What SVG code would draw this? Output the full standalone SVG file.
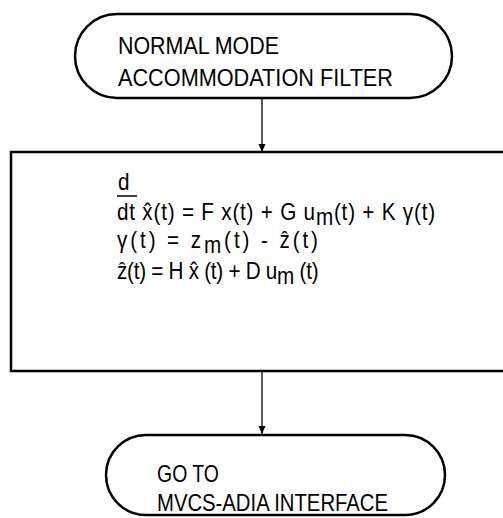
<svg xmlns="http://www.w3.org/2000/svg" width="503" height="518" viewBox="0 0 503 518">
<defs>
<marker id="ah" markerWidth="8" markerHeight="12" refX="8" refY="3.5" orient="auto" markerUnits="userSpaceOnUse">
<path d="M0,0 L8,3.5 L0,7 Z" fill="#000"/>
</marker>
<style>
.shape{fill:#fff;stroke:#000;stroke-width:2.5}
.lbl{font-family:"Liberation Sans","DejaVu Sans",sans-serif;font-size:24px;fill:#000}
.eq{font-family:"Liberation Sans","DejaVu Sans",sans-serif;font-size:23.5px;fill:#000}
.conn{stroke:#000;stroke-width:1.3;fill:none}
</style>
</defs>
<rect width="503" height="518" fill="#fff"/>
<g id="connectors">
<line class="conn" x1="262" y1="98" x2="262" y2="152" marker-end="url(#ah)"/>
<line class="conn" x1="262" y1="371" x2="262" y2="434" marker-end="url(#ah)"/>
</g>
<g id="start">
<rect class="shape" x="75" y="14" width="377" height="84" rx="42" ry="42"/>
<text class="lbl" x="118" y="54" textLength="161" lengthAdjust="spacingAndGlyphs">NORMAL MODE</text>
<text class="lbl" x="118" y="86" textLength="275" lengthAdjust="spacingAndGlyphs">ACCOMMODATION FILTER</text>
</g>
<g id="filter">
<rect class="shape" x="11" y="152" width="500" height="219"/>
<line x1="117" y1="196" x2="137" y2="196" stroke="#000" stroke-width="1.5"/>
<g transform="matrix(0.88,0,0,1,14.04,0)">
<text class="eq" x="118" y="190">d</text>
<text class="eq" x="117" y="220" letter-spacing="0.9">dt x̂(t) = F x(t) + G u<tspan dy="5">m</tspan><tspan dy="-5">(t) + K γ(t)</tspan></text>
<text class="eq" x="117" y="248" letter-spacing="3.3">γ(t) = z<tspan dy="5">m</tspan><tspan dy="-5">(t) - ẑ(t)</tspan></text>
<text class="eq" x="117" y="279" letter-spacing="-0.3">ẑ(t) = H x̂ (t) + D u<tspan dy="5">m</tspan><tspan dy="-5"> (t)</tspan></text>
</g>
</g>
<g id="end">
<rect class="shape" x="106" y="435" width="339" height="80" rx="40" ry="40"/>
<text class="lbl" x="157" y="482" textLength="62" lengthAdjust="spacingAndGlyphs">GO TO</text>
<text class="lbl" x="157" y="511" textLength="231" lengthAdjust="spacingAndGlyphs">MVCS-ADIA INTERFACE</text>
</g>
</svg>
